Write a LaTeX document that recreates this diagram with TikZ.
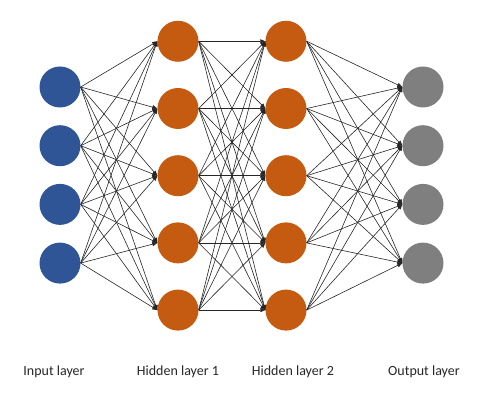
\documentclass[tikz,border=0pt]{standalone}
\usepackage{fontspec}
\setmainfont{Carlito}
\usepackage{xcolor}
\usetikzlibrary{arrows.meta,positioning}

\definecolor{inblue}{RGB}{47,85,151}
\definecolor{hidorange}{RGB}{197,90,17}
\definecolor{outgray}{RGB}{127,127,127}

\begin{document}
\begin{tikzpicture}[x=1pt, y=-1pt,
  neuron/.style={circle, draw=none, inner sep=0pt, minimum size=41pt},
  link/.style={-{Triangle[length=5pt,width=4pt]}, line width=0.6pt, draw=black!85},
  layerlabel/.style={font=\fontsize{14}{16}\selectfont, text=black!85},
]
\useasboundingbox (0,0) rectangle (480,403);

% Input layer
\foreach \i in {1,...,4}
  \node[neuron, fill=inblue] (in\i) at (60, {87+58.7*(\i-1)}) {};

% Hidden layers
\foreach \j in {1,...,5} {
  \node[neuron, fill=hidorange] (ha\j) at (178, {41.3+67.2*(\j-1)}) {};
  \node[neuron, fill=hidorange] (hb\j) at (286, {41.3+67.2*(\j-1)}) {};
}

% Output layer
\foreach \k in {1,...,4}
  \node[neuron, fill=outgray] (out\k) at (423, {87+58.7*(\k-1)}) {};

% Connections
\foreach \i in {1,...,4}
  \foreach \j in {1,...,5}
    \draw[link] (in\i.east) -- (ha\j.west);
\foreach \i in {1,...,5}
  \foreach \j in {1,...,5}
    \draw[link] (ha\i.east) -- (hb\j.west);
\foreach \i in {1,...,5}
  \foreach \k in {1,...,4}
    \draw[link] (hb\i.east) -- (out\k.west);

% Labels
\node[layerlabel] (lin) at (54, 372) {Input layer};
\node[layerlabel] (lha) at (178, 372) {Hidden layer 1};
\node[layerlabel] (lhb) at (293, 372) {Hidden layer 2};
\node[layerlabel] (lout) at (424, 372) {Output layer};
\end{tikzpicture}
\end{document}
